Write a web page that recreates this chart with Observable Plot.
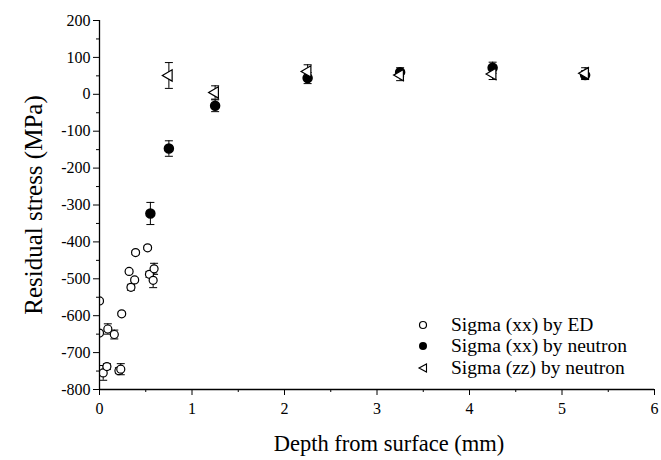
<!DOCTYPE html>
<html><head><meta charset="utf-8">
<script src="https://cdn.jsdelivr.net/npm/d3@7"></script>
<script src="https://cdn.jsdelivr.net/npm/@observablehq/plot@0.6"></script>
<style>
body{margin:0;background:#fff;}
#wrap{position:relative;width:661px;height:460px;font-family:"Liberation Serif","Times New Roman",Times,serif;}
#legend{position:absolute;left:412px;top:314px;font-size:19.5px;color:#000;}
#legend .row{display:flex;align-items:center;height:21.5px;white-space:nowrap;}
#legend svg{width:22px;height:16px;margin-right:17px;}
</style></head><body><div id="wrap"><div id="legend"></div></div>
<script>
// Series: Sigma (xx) by ED (open circles)
const edDepth  = [0, 0, 0.04, 0.08, 0.09, 0.16, 0.21, 0.23, 0.24, 0.32, 0.34, 0.38, 0.39, 0.52, 0.54, 0.58, 0.59];
const edStress = [-560, -647, -755, -738, -636, -651, -749, -745, -595, -480, -523, -503, -429, -416, -488, -504, -473];
const edErr    = [5, 5, 20, 8, 14, 12, 8, 15, 5, 5, 8, 5, 5, 5, 8, 20, 15];
// Series: Sigma (xx) by neutron (filled circles)
const nxDepth  = [0.55, 0.75, 1.25, 2.25, 3.25, 4.25, 5.25];
const nxStress = [-323, -147, -31, 44, 60, 72, 52];
const nxErr    = [30, 21, 16, 15, 12, 15, 12];
// Series: Sigma (zz) by neutron (left triangles)
const nzDepth  = [0.75, 1.25, 2.25, 3.25, 4.25, 5.25];
const nzStress = [51, 5, 62, 52, 55, 57];
const nzErr    = [35, 18, 18, 15, 15, 15];
// Axis ticks
const xMajor = [0, 1, 2, 3, 4, 5, 6];
const xMinor = [0.5, 1.5, 2.5, 3.5, 4.5, 5.5];
const yMajor = [-800, -700, -600, -500, -400, -300, -200, -100, 0, 100, 200];
const yMinor = [-750, -650, -550, -450, -350, -250, -150, -50, 50, 150];
const legendLabels = ["Sigma (xx) by ED", "Sigma (xx) by neutron", "Sigma (zz) by neutron"];
const xTitle = "Depth from surface (mm)";
const yTitle = "Residual stress (MPa)";

const mk = (xs, ys, es) => xs.map((x, i) => ({x, y: ys[i], lo: ys[i] - es[i], hi: ys[i] + es[i]}));
const ed = mk(edDepth, edStress, edErr);
const nx = mk(nxDepth, nxStress, nxErr);
const nz = mk(nzDepth, nzStress, nzErr);

const cap = {draw(ctx) { ctx.moveTo(-4, 0); ctx.lineTo(4, 0); }};
const font = '"Liberation Serif","Times New Roman",Times,serif';

function errMarks(data) {
  return [
    Plot.ruleX(data, {x: "x", y1: "lo", y2: "hi", stroke: "black", strokeWidth: 1, clip: true}),
    Plot.dot(data, {x: "x", y: "lo", symbol: cap, r: 2, stroke: "black", strokeWidth: 1, clip: true}),
    Plot.dot(data, {x: "x", y: "hi", symbol: cap, r: 2, stroke: "black", strokeWidth: 1, clip: true})
  ];
}

const chart = Plot.plot({
  width: 661, height: 460,
  marginLeft: 99, marginRight: 7, marginTop: 20, marginBottom: 71,
  style: {fontFamily: font, fontSize: "16px", color: "black", background: "white", overflow: "visible"},
  x: {domain: [0, 6], label: null},
  y: {domain: [-800, 200], label: null},
  marks: [
    ...errMarks(ed),
    Plot.dot(ed, {x: "x", y: "y", r: 4, fill: "white", stroke: "black", strokeWidth: 1.2, clip: true}),
    ...errMarks(nx),
    Plot.dot(nx, {x: "x", y: "y", r: 4.5, fill: "black", stroke: "black", clip: true}),
    ...errMarks(nz),
    Plot.dot(nz, {x: "x", y: "y", symbol: "triangle", rotate: -90, r: 4.2, fill: "white", stroke: "black", strokeWidth: 1.2, clip: true}),
    Plot.ruleX([0], {stroke: "black", strokeWidth: 1.3}),
    Plot.ruleY([-800], {stroke: "black", strokeWidth: 1.3}),
    Plot.axisX({ticks: xMajor, tickSize: 6, tickPadding: 7, tickFormat: d => String(d), label: null, fontSize: 16}),
    Plot.axisX({ticks: xMinor, tickSize: 3, tickFormat: () => "", label: null}),
    Plot.axisY({ticks: yMajor, tickSize: 6, tickPadding: 3, tickFormat: d => String(d), label: null, fontSize: 16}),
    Plot.axisY({ticks: yMinor, tickSize: 3, tickFormat: () => "", label: null}),
    Plot.text([xTitle], {text: d => d, frameAnchor: "bottom", textAnchor: "middle", lineAnchor: "middle", dx: 12, dy: 54, fontSize: 22.5, fontFamily: font}),
    Plot.text([yTitle], {text: d => d, frameAnchor: "left", textAnchor: "middle", lineAnchor: "middle", rotate: -90, dx: -66, fontSize: 25, fontFamily: font})
  ]
});
document.getElementById("wrap").prepend(chart);

// Legend (HTML overlay)
const syms = [
  '<svg viewBox="-11 -8 22 16"><circle r="3.5" fill="white" stroke="black" stroke-width="1.2"/></svg>',
  '<svg viewBox="-11 -8 22 16"><circle r="4" fill="black"/></svg>',
  '<svg viewBox="-11 -8 22 16"><path d="M-4,0L3.5,-4L3.5,4Z" fill="white" stroke="black" stroke-width="1.1"/></svg>'
];
const leg = document.getElementById("legend");
legendLabels.forEach((t, i) => {
  const row = document.createElement("div");
  row.className = "row";
  row.innerHTML = syms[i];
  const span = document.createElement("span");
  span.textContent = t;
  row.appendChild(span);
  leg.appendChild(row);
});
</script>
</body></html>
